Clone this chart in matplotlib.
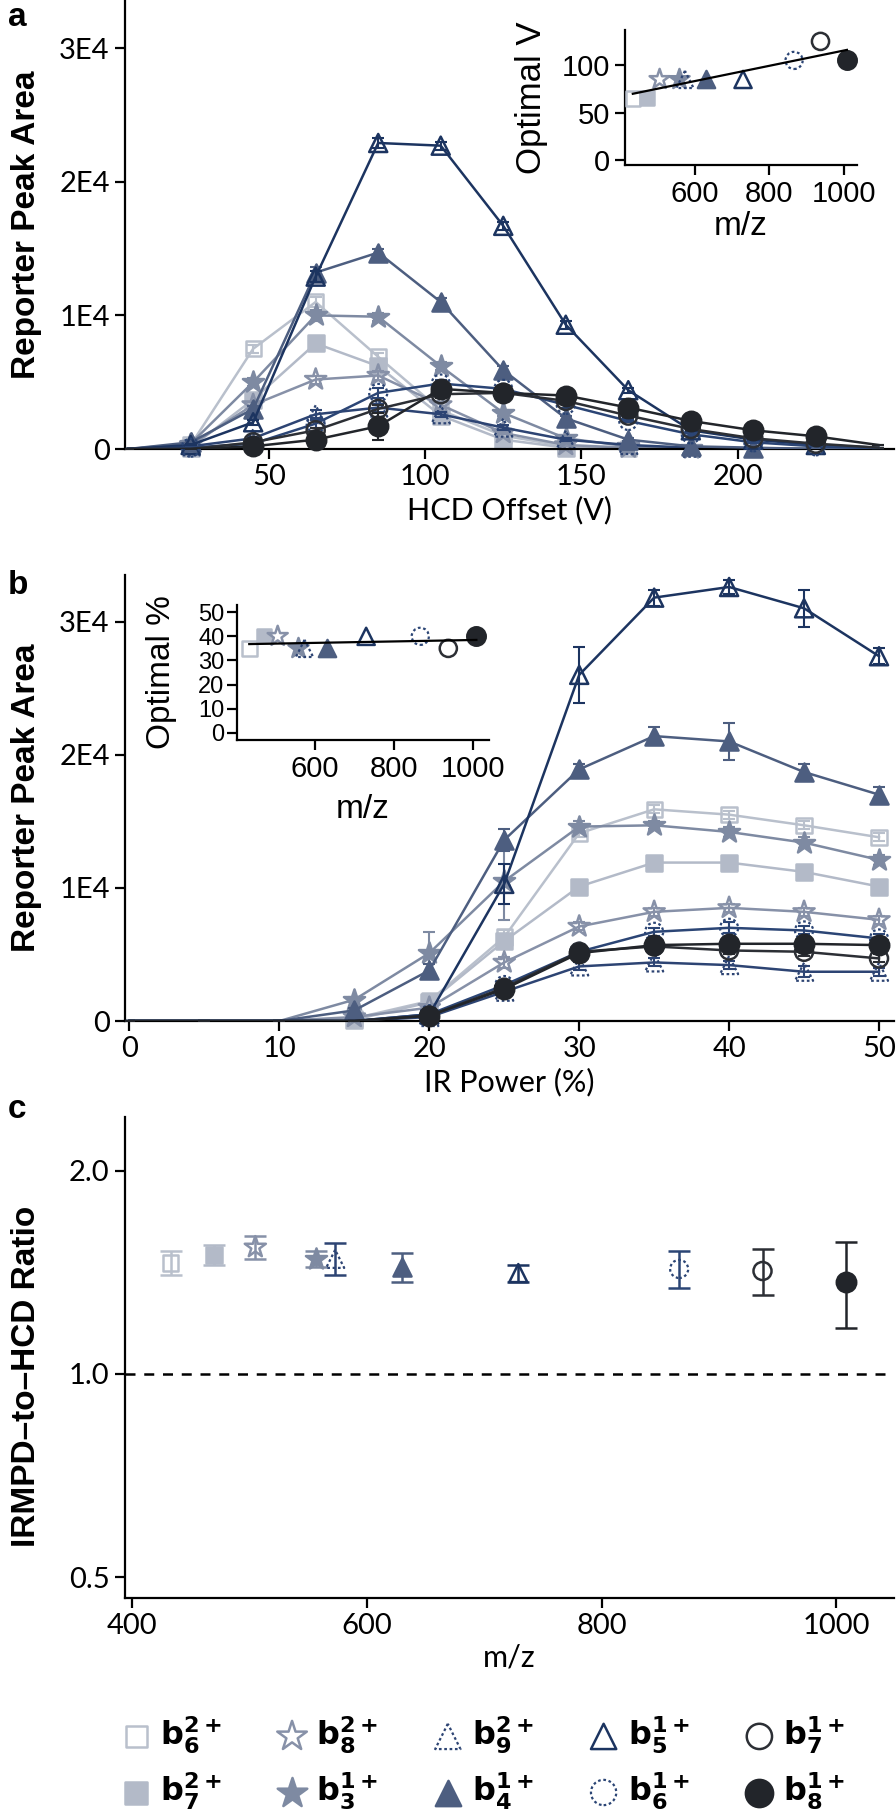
import numpy as np
import matplotlib
matplotlib.use("Agg")
from matplotlib import pyplot as plt
from matplotlib.ticker import NullLocator

# ---- data ----
ions = ["b6_2", "b7_2", "b8_2", "b3_1", "b9_2", "b4_1", "b5_1", "b6_1", "b7_1", "b8_1"]
labels = [r"$\mathbf{b}_{\mathbf{6}}^{\mathbf{2+}}$", r"$\mathbf{b}_{\mathbf{7}}^{\mathbf{2+}}$",
          r"$\mathbf{b}_{\mathbf{8}}^{\mathbf{2+}}$", r"$\mathbf{b}_{\mathbf{3}}^{\mathbf{1+}}$",
          r"$\mathbf{b}_{\mathbf{9}}^{\mathbf{2+}}$", r"$\mathbf{b}_{\mathbf{4}}^{\mathbf{1+}}$",
          r"$\mathbf{b}_{\mathbf{5}}^{\mathbf{1+}}$", r"$\mathbf{b}_{\mathbf{6}}^{\mathbf{1+}}$",
          r"$\mathbf{b}_{\mathbf{7}}^{\mathbf{1+}}$", r"$\mathbf{b}_{\mathbf{8}}^{\mathbf{1+}}$"]

# panel a: HCD offset (V)
hcd_offset = [5, 25, 45, 65, 85, 105, 125, 145, 165, 185, 205, 225, 245]
hcd_area = {
    "b6_2": [0, 300, 7500, 11000, 6900, 2900, 1000, 200, 50, 0, 0, 0, 0],
    "b7_2": [0, 100, 3700, 7900, 6200, 2500, 700, 100, 0, 0, 0, 0, 0],
    "b8_2": [0, 300, 3300, 5200, 5500, 3300, 1200, 300, 100, 0, 0, 0, 0],
    "b3_1": [0, 400, 5000, 10000, 9900, 6200, 2700, 800, 200, 50, 0, 0, 0],
    "b9_2": [0, 200, 800, 2600, 3100, 2600, 1600, 700, 300, 100, 0, 0, 0],
    "b4_1": [0, 500, 3000, 13200, 14700, 11000, 5900, 2300, 700, 200, 100, 0, 0],
    "b5_1": [0, 300, 2000, 12900, 22900, 22700, 16700, 9300, 4400, 1400, 700, 300, 100],
    "b6_1": [0, 100, 400, 1900, 4200, 4900, 4500, 3300, 2100, 1100, 500, 200, 50],
    "b7_1": [0, 0, 500, 1400, 3000, 4100, 4200, 3600, 2500, 1500, 800, 400, 100],
    "b8_1": [0, 0, 200, 700, 1700, 4500, 4200, 4000, 3100, 2100, 1400, 950, 300],
}
hcd_err = {
    "b6_2": [0, 50, 300, 400, 300, 200, 100, 50, 0, 0, 0, 0, 0],
    "b7_2": [0, 50, 200, 300, 300, 200, 100, 50, 0, 0, 0, 0, 0],
    "b8_2": [0, 50, 200, 300, 300, 200, 100, 50, 0, 0, 0, 0, 0],
    "b3_1": [0, 50, 300, 400, 300, 300, 200, 100, 50, 0, 0, 0, 0],
    "b9_2": [0, 50, 100, 300, 300, 200, 200, 100, 50, 0, 0, 0, 0],
    "b4_1": [0, 50, 200, 400, 300, 300, 300, 200, 100, 50, 0, 0, 0],
    "b5_1": [0, 50, 200, 400, 400, 300, 300, 300, 200, 100, 50, 0, 0],
    "b6_1": [0, 50, 100, 300, 400, 300, 200, 200, 100, 100, 50, 0, 0],
    "b7_1": [0, 0, 100, 200, 300, 300, 200, 200, 200, 100, 50, 0, 0],
    "b8_1": [0, 0, 100, 300, 1000, 300, 300, 300, 200, 200, 100, 100, 0],
}

# panel b: IR power (%)
ir_power = [0, 5, 10, 15, 20, 25, 30, 35, 40, 45, 50]
ir_area = {
    "b6_2": [0, 0, 0, 200, 1500, 6300, 14100, 15900, 15500, 14700, 13800],
    "b7_2": [0, 0, 0, 100, 1400, 6000, 10100, 11900, 11900, 11200, 10100],
    "b8_2": [0, 0, 0, 300, 1000, 4400, 7100, 8200, 8500, 8200, 7600],
    "b3_1": [0, 0, 0, 1600, 5100, 10500, 14600, 14700, 14200, 13400, 12100],
    "b9_2": [0, 0, 0, 0, 300, 2200, 4100, 4400, 4200, 3700, 3700],
    "b4_1": [0, 0, 0, 800, 3800, 13600, 18900, 21400, 21000, 18700, 17000],
    "b5_1": [0, 0, 0, 0, 500, 10300, 26000, 31800, 32600, 31000, 27400],
    "b6_1": [0, 0, 0, 0, 500, 2700, 5200, 6700, 7000, 6800, 6200],
    "b7_1": [0, 0, 0, 0, 400, 2500, 5200, 5600, 5300, 5200, 4700],
    "b8_1": [0, 0, 0, 0, 400, 2400, 5100, 5700, 5800, 5800, 5700],
}
ir_err = {
    "b6_2": [0, 0, 0, 50, 300, 500, 300, 300, 300, 300, 300],
    "b7_2": [0, 0, 0, 50, 300, 500, 300, 300, 300, 300, 300],
    "b8_2": [0, 0, 0, 50, 200, 400, 300, 300, 300, 300, 300],
    "b3_1": [0, 0, 0, 200, 1600, 2900, 400, 300, 400, 400, 400],
    "b9_2": [0, 0, 0, 0, 100, 300, 300, 300, 300, 400, 300],
    "b4_1": [0, 0, 0, 200, 500, 800, 400, 700, 1400, 600, 600],
    "b5_1": [0, 0, 0, 0, 200, 1500, 2100, 600, 500, 1400, 600],
    "b6_1": [0, 0, 0, 0, 100, 300, 300, 300, 400, 300, 300],
    "b7_1": [0, 0, 0, 0, 100, 300, 300, 300, 300, 300, 300],
    "b8_1": [0, 0, 0, 0, 100, 300, 300, 300, 300, 300, 300],
}

# panel c + insets
mz = [433, 470, 505, 557, 573, 630, 729, 866, 937, 1008]
ratio = [1.46, 1.50, 1.54, 1.48, 1.48, 1.44, 1.41, 1.43, 1.42, 1.37]
ratio_err = [0.06, 0.05, 0.06, 0.04, 0.08, 0.07, 0.04, 0.09, 0.11, 0.20]
optimal_v = [65, 65, 85, 85, 85, 85, 85, 105, 125, 105]
optimal_pct = [35, 40, 40, 35, 35, 35, 40, 40, 35, 40]

# ---- styles ----
style = {
    "b6_2": dict(color="#b9c0cc", marker="s", filled=False, dotted=False, ms=11),
    "b7_2": dict(color="#b3bac8", marker="s", filled=True, dotted=False, ms=11),
    "b8_2": dict(color="#8791a8", marker="*", filled=False, dotted=False, ms=16),
    "b3_1": dict(color="#7e8aa2", marker="*", filled=True, dotted=False, ms=16),
    "b9_2": dict(color="#2d4473", marker="^", filled=False, dotted=True, ms=13),
    "b4_1": dict(color="#4d5e80", marker="^", filled=True, dotted=False, ms=13),
    "b5_1": dict(color="#1c3460", marker="^", filled=False, dotted=False, ms=13),
    "b6_1": dict(color="#2b4575", marker="o", filled=False, dotted=True, ms=13),
    "b7_1": dict(color="#2c2f35", marker="o", filled=False, dotted=False, ms=13),
    "b8_1": dict(color="#22252a", marker="o", filled=True, dotted=False, ms=14),
}

TICK_FONT = "Lato"
ARIAL = "Liberation Sans"
plt.rcParams["font.family"] = [TICK_FONT, "DejaVu Sans"]
plt.rcParams["axes.linewidth"] = 1.6


def draw_marks(ax, x, y, st, scale=1.0, z=3, clip=True):
    ms = st["ms"] * scale
    if st["dotted"]:
        return ax.scatter(x, y, s=ms ** 2, marker=st["marker"], facecolors="none",
                          edgecolors=st["color"], linewidths=1.6, linestyles=(0, (1.2, 1.2)),
                          zorder=z, clip_on=clip)
    return ax.scatter(x, y, s=ms ** 2, marker=st["marker"],
                      facecolors=st["color"] if st["filled"] else "none",
                      edgecolors=st["color"], linewidths=1.8, zorder=z, clip_on=clip)


def style_axes(ax, size=21, font=TICK_FONT):
    for s in ["top", "right"]:
        ax.spines[s].set_visible(False)
    ax.tick_params(direction="out", length=7, width=1.6, labelsize=size, pad=4)
    for t in ax.get_xticklabels() + ax.get_yticklabels():
        t.set_family(font)


def series_panel(ax, xs, data, errs, mslice):
    x = np.array(xs)
    for k, ion in enumerate(ions):
        st = style[ion]
        y = np.array(data[ion])
        ax.errorbar(x, y, yerr=errs[ion], color=st["color"], lw=1.8, elinewidth=1.5,
                    capsize=4, capthick=1.5, zorder=2 + k * 0.1)
        mx, my = x[mslice], y[mslice]
        keep = my > 0
        draw_marks(ax, mx[keep], my[keep], st, scale=1.0, z=2.05 + k * 0.1, clip=False)


fig = plt.figure(figsize=(8.96, 18.19), dpi=100)
W, H = 896.0, 1819.0


def axes_px(left, top, right, bottom):
    return fig.add_axes([left / W, 1 - bottom / H, (right - left) / W, (bottom - top) / H])


# ---- panel a ----
ax_a = axes_px(125, 0, 894, 449)
series_panel(ax_a, hcd_offset, hcd_area, hcd_err, slice(1, -1))
ax_a.set_xlim(4, 250)
ax_a.set_ylim(0, 33600)
ax_a.set_xticks([50, 100, 150, 200])
ax_a.set_yticks([0, 10000, 20000, 30000])
ax_a.set_yticklabels(["0", "1E4", "2E4", "3E4"])
style_axes(ax_a)
ax_a.set_xlabel("HCD Offset (V)", fontsize=22, family=TICK_FONT)
ax_a.xaxis.set_label_coords(0.5, -0.105)
ax_a.set_ylabel("Reporter Peak Area", fontsize=24, fontweight="bold", family=ARIAL)
ax_a.yaxis.set_label_coords(-0.108, 0.5)

# inset a
ins_a = axes_px(625, 30, 857, 165)
ins_a.patch.set_alpha(0)
for k, ion in enumerate(ions):
    draw_marks(ins_a, [mz[k]], [optimal_v[k]], style[ion], scale=0.95, z=3 + k * 0.1, clip=False)
fit = np.polyfit(mz, optimal_v, 1)
xf = np.array([min(mz), max(mz)])
ins_a.plot(xf, np.polyval(fit, xf), color="black", lw=1.6, zorder=10)
ins_a.set_xlim(412, 1035)
ins_a.set_ylim(-5, 137)
ins_a.set_xticks([600, 800, 1000])
ins_a.set_yticks([0, 50, 100])
style_axes(ins_a, size=21, font=ARIAL)
ins_a.set_xlabel("m/z", fontsize=24, family=ARIAL)
ins_a.set_ylabel("Optimal V", fontsize=25, family=ARIAL)
ins_a.xaxis.set_label_coords(0.5, -0.34)
ins_a.yaxis.set_label_coords(-0.33, 0.5)

# ---- panel b ----
ax_b = axes_px(125, 575, 894, 1021)
series_panel(ax_b, ir_power, ir_area, ir_err, slice(3, None))
ax_b.set_xlim(-0.3, 51)
ax_b.set_ylim(0, 33500)
ax_b.set_xticks([0, 10, 20, 30, 40, 50])
ax_b.set_yticks([0, 10000, 20000, 30000])
ax_b.set_yticklabels(["0", "1E4", "2E4", "3E4"])
style_axes(ax_b)
ax_b.set_xlabel("IR Power (%)", fontsize=22, family=TICK_FONT)
ax_b.xaxis.set_label_coords(0.5, -0.105)
ax_b.set_ylabel("Reporter Peak Area", fontsize=24, fontweight="bold", family=ARIAL)
ax_b.yaxis.set_label_coords(-0.108, 0.5)

# inset b
ins_b = axes_px(237, 605, 489, 740)
ins_b.patch.set_alpha(0)
for k, ion in enumerate(ions):
    draw_marks(ins_b, [mz[k]], [optimal_pct[k]], style[ion], scale=0.95, z=3 + k * 0.1, clip=False)
fit = np.polyfit(mz, optimal_pct, 1)
ins_b.plot(xf, np.polyval(fit, xf), color="black", lw=1.6, zorder=10)
ins_b.set_xlim(402, 1040)
ins_b.set_ylim(-3, 53)
ins_b.set_xticks([600, 800, 1000])
ins_b.set_yticks([0, 10, 20, 30, 40, 50])
style_axes(ins_b, size=21, font=ARIAL)
ins_b.tick_params(axis="y", pad=2, labelsize=17)
ins_b.set_xlabel("m/z", fontsize=24, family=ARIAL)
ins_b.set_ylabel("Optimal %", fontsize=24, family=ARIAL)
ins_b.xaxis.set_label_coords(0.5, -0.40)
ins_b.yaxis.set_label_coords(-0.24, 0.5)

# ---- panel c ----
ax_c = axes_px(125, 1117, 894, 1598)
handles = []
for k, ion in enumerate(ions):
    st = style[ion]
    ax_c.errorbar(mz[k], ratio[k], yerr=ratio_err[k], fmt="none", ecolor=st["color"],
                  elinewidth=1.8, capsize=8, capthick=1.8, zorder=2)
    handles.append(draw_marks(ax_c, [mz[k]], [ratio[k]], st, scale=1.0, z=3))
ax_c.axhline(1.0, color="black", lw=1.8, ls=(0, (4, 3.5)), zorder=1)
ax_c.set_yscale("log")
ax_c.set_ylim(0.466, 2.4)
ax_c.set_xlim(394, 1049)
ax_c.set_yticks([0.5, 1.0, 2.0])
ax_c.set_yticklabels(["0.5", "1.0", "2.0"])
ax_c.yaxis.set_minor_locator(NullLocator())
ax_c.set_xticks([400, 600, 800, 1000])
style_axes(ax_c)
ax_c.set_xlabel("m/z", fontsize=22, family=TICK_FONT)
ax_c.xaxis.set_label_coords(0.5, -0.095)
ax_c.set_ylabel("IRMPD\u2013to\u2013HCD Ratio", fontsize=24, fontweight="bold", family=ARIAL)
ax_c.yaxis.set_label_coords(-0.108, 0.46)

# panel letters
for lab, ypx in [("a", 18), ("b", 585), ("c", 1110)]:
    fig.text(8 / W, 1 - ypx / H, lab, fontsize=24, fontweight="bold", family=ARIAL,
             va="center", ha="left")

# legend
fig.legend(handles, labels, loc="center", bbox_to_anchor=(481 / W, 1 - 1763 / H), ncol=5,
           frameon=False, fontsize=23, scatterpoints=1, markerscale=1.4,
           columnspacing=1.6, handletextpad=0.15, labelspacing=0.45, handlelength=1.2)

fig.savefig("out.png", dpi=100)
